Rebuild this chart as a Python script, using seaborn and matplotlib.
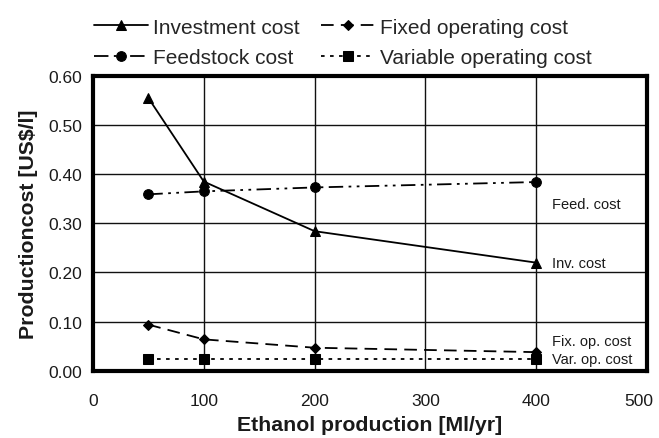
"""
Ethanol production cost breakdown versus plant size.
"""

import matplotlib
matplotlib.use('Agg')
import matplotlib.pyplot as plt
import matplotlib.transforms as mtransforms
import pandas
import seaborn as sns

# Plant size [Ml/yr]
capacity = [50, 100, 200, 400]

# Cost components [US$/l]
investment_cost = [0.555, 0.385, 0.284, 0.220]
feedstock_cost = [0.359, 0.365, 0.373, 0.384]
fixed_op_cost = [0.094, 0.064, 0.047, 0.038]
variable_op_cost = [0.024, 0.024, 0.024, 0.024]

series_names = ['Investment cost', 'Feedstock cost',
                'Fixed operating cost', 'Variable operating cost']
end_labels = ['Inv. cost', 'Feed. cost', 'Fix. op. cost', 'Var. op. cost']
end_label_y = [0.220, 0.340, 0.060, 0.024]


def main():
    sns.set_style('white')
    plt.rcParams['font.family'] = ['Liberation Sans', 'DejaVu Sans']

    df = pandas.DataFrame({
        'capacity': capacity * 4,
        'cost': investment_cost + feedstock_cost + fixed_op_cost + variable_op_cost,
        'series': [n for n in series_names for _ in capacity],
    })

    styles = {
        'Investment cost': dict(linestyle='-', marker='^', markersize=7.5),
        'Feedstock cost': dict(linestyle=(0, (8, 3, 1.5, 3, 1.5, 3)), marker='o', markersize=7),
        'Fixed operating cost': dict(linestyle=(0, (7, 4)), marker='D', markersize=5),
        'Variable operating cost': dict(linestyle=(0, (2, 3)), marker='s', markersize=6.5),
    }

    fig = plt.figure(figsize=(6.59, 4.39), dpi=100)
    ax = fig.add_axes([0.141, 0.153, 0.841, 0.672])

    for name in series_names:
        sub = df[df['series'] == name]
        sns.lineplot(data=sub, x='capacity', y='cost', ax=ax, color='black',
                     linewidth=1.3, label=name, legend=False,
                     markeredgecolor='black', **styles[name])

    for text, y in zip(end_labels, end_label_y):
        ax.text(414, y, text, fontsize=10.5, va='center', ha='left', color='#1a1a1a')

    ax.set_xlim(0, 500)
    ax.set_ylim(0, 0.6)
    ax.set_xticks([0, 100, 200, 300, 400, 500])
    ax.set_yticks([i / 10 for i in range(7)])
    ax.set_yticklabels([f'{i / 10:.2f}' for i in range(7)])
    ax.grid(True, color='#111111', linewidth=1.0)
    for spine in ax.spines.values():
        spine.set_visible(True)
        spine.set_color('black')
        spine.set_linewidth(3)
    ax.tick_params(axis='both', labelsize=12.5, length=0, colors='#1a1a1a')
    ax.tick_params(axis='x', pad=16)
    ax.tick_params(axis='y', pad=8)
    # keep the last x label inside the figure, as in the original
    last = ax.get_xticklabels()[-1]
    last.set_transform(last.get_transform()
                       + mtransforms.ScaledTranslation(-8 / 100, 0, fig.dpi_scale_trans))
    ax.set_xlabel('Ethanol production [Ml/yr]', fontsize=15.3, fontweight='bold',
                  labelpad=5, color='#1a1a1a')
    ax.set_ylabel('Productioncost [US$/l]', fontsize=15.3, fontweight='bold',
                  labelpad=7, color='#1a1a1a')

    handles, labels = ax.get_legend_handles_labels()
    fig.legend(handles, labels, ncol=2, loc='upper center',
               bbox_to_anchor=(0.52, 1.0), frameon=False, fontsize=15,
               handlelength=2.6, handletextpad=0.25, columnspacing=1.0,
               labelspacing=0.55)

    fig.savefig('out.png', dpi=100)


if __name__ == '__main__':
    main()
